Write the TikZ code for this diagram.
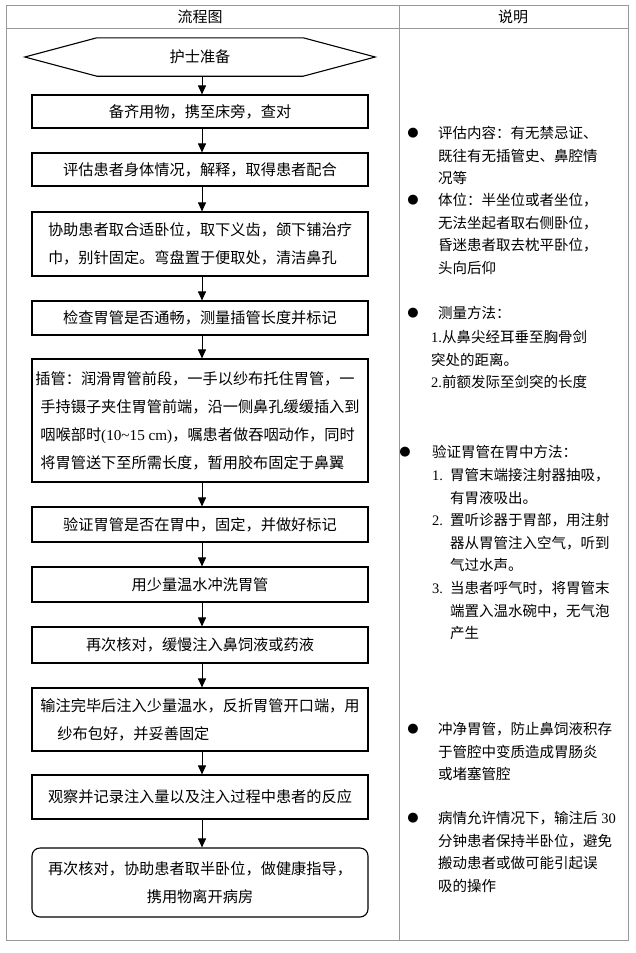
\documentclass[tikz,border=0pt]{standalone}
\usepackage{fontspec}
\newfontfamily\cjk{Noto Sans CJK SC}
\newfontfamily\tnr{Liberation Serif}
\newfontfamily\dju{DejaVu Sans}
\usetikzlibrary{arrows.meta}
\begin{document}
\begin{tikzpicture}[x=1pt,y=-1pt,
  box/.style={draw=black,line width=1.1pt,minimum width=336pt,inner sep=0pt,align=center,
    font=\cjk\fontsize{15.2}{28}\selectfont},
  lbox/.style={box,align=left},
  arr/.style={-{Triangle[length=9pt,width=8pt]},line width=0.9pt},
  grid/.style={draw=black!40,line width=1pt},
  head/.style={inner sep=0pt,font=\cjk\fontsize{15}{15}\selectfont},
  note/.style={anchor=base west,align=left,inner sep=0pt,font=\cjk\fontsize{14.5}{22.6}\selectfont},
  bul/.style={anchor=center,inner sep=0pt,font=\dju\fontsize{13}{13}\selectfont}]
\useasboundingbox (0,0) rectangle (635,953);
% table
\draw[grid] (6,5) rectangle (628,940);
\draw[grid] (6,28) -- (628,28);
\draw[grid] (399,5) -- (399,940);
\node[head] (h1) at (200,17) {流程图};
\node[head] (h2) at (513,17) {说明};
% hexagon
\node[inner sep=0pt,minimum width=350pt,minimum height=38pt,font=\cjk\fontsize{15.2}{15.2}\selectfont] (hex) at (200,57) {护士准备};
\draw[line width=1.1pt] (hex.west) -- ([xshift=72pt]hex.north west) -- ([xshift=-72pt]hex.north east)
  -- (hex.east) -- ([xshift=-72pt]hex.south east) -- ([xshift=72pt]hex.south west) -- cycle;
% boxes
\node[box,minimum height=33pt] (b1) at (200,111.5) {备齐用物，携至床旁，查对};
\node[box,minimum height=33pt] (b2) at (200,169.5) {评估患者身体情况，解释，取得患者配合};
\node[lbox,minimum height=64pt] (b3) at (200,244) {协助患者取合适卧位，取下义齿，颌下铺治疗\\巾，别针固定。弯盘置于便取处，清洁鼻孔};
\node[box,minimum height=34pt] (b4) at (200,318) {检查胃管是否通畅，测量插管长度并标记};
\node[lbox,minimum height=123pt] (b5) at (200,420.5) {\hspace*{-5pt}插管：润滑胃管前段，一手以纱布托住胃管，一\\手持镊子夹住胃管前端，沿一侧鼻孔缓缓插入到\\咽喉部时{\tnr(10\textasciitilde15 cm)}，嘱患者做吞咽动作，同时\\将胃管送下至所需长度，暂用胶布固定于鼻翼};
\node[box,minimum height=35pt] (b6) at (200,524.5) {验证胃管是否在胃中，固定，并做好标记};
\node[box,minimum height=35pt] (b7) at (200,584.5) {用少量温水冲洗胃管};
\node[box,minimum height=36pt] (b8) at (200,645) {再次核对，缓慢注入鼻饲液或药液};
\node[lbox,minimum height=63pt] (b9) at (200,719.5) {输注完毕后注入少量温水，反折胃管开口端，用\\\hspace*{17pt}纱布包好，并妥善固定};
\node[box,minimum height=44pt] (b10) at (200,797) {观察并记录注入量以及注入过程中患者的反应};
\node[box,rounded corners=8pt,minimum height=69pt] (b11) at (200,882.5) {再次核对，协助患者取半卧位，做健康指导，\\携用物离开病房};
% arrows
\draw[arr] ([xshift=2pt]hex.south) -- ([xshift=2pt]b1.north);
\draw[arr] ([xshift=2pt]b1.south) -- ([xshift=2pt]b2.north);
\draw[arr] ([xshift=2pt]b2.south) -- ([xshift=2pt]b3.north);
\draw[arr] ([xshift=2pt]b3.south) -- ([xshift=2pt]b4.north);
\draw[arr] ([xshift=2pt]b4.south) -- ([xshift=2pt]b5.north);
\draw[arr] ([xshift=2pt]b5.south) -- ([xshift=2pt]b6.north);
\draw[arr] ([xshift=2pt]b6.south) -- ([xshift=2pt]b7.north);
\draw[arr] ([xshift=2pt]b7.south) -- ([xshift=2pt]b8.north);
\draw[arr] ([xshift=2pt]b8.south) -- ([xshift=2pt]b9.north);
\draw[arr] ([xshift=2pt]b9.south) -- ([xshift=2pt]b10.north);
\draw[arr] ([xshift=2pt]b10.south) -- ([xshift=2pt]b11.north);
% notes (anchored at the baseline of the last line)
\node[bul] (d1) at (413,133) {●};
\node[note] (n1) at (438,183.7) {评估内容：有无禁忌证、\\既往有无插管史、鼻腔情\\况等};
\node[bul] (d2) at (413,200) {●};
\node[note] (n2) at (438,273.3) {体位：半坐位或者坐位，\\无法坐起者取右侧卧位，\\昏迷患者取去枕平卧位，\\头向后仰};
\node[bul] (d3) at (413,313) {●};
\node[note] (n3) at (438,318.5) {测量方法：};
\node[note] (n3b) at (431,387.7) {{\tnr 1.}从鼻尖经耳垂至胸骨剑\\突处的距离。\\{\tnr 2.}前额发际至剑突的长度};
\node[bul] (d4) at (405,452) {●};
\node[note] (n4) at (432,457.5) {验证胃管在胃中方法：};
\node[note] (k1) at (432,480.5) {\tnr 1.};
\node[note] (n41) at (450,503.1) {胃管末端接注射器抽吸，\\有胃液吸出。};
\node[note] (k2) at (432,525.5) {\tnr 2.};
\node[note] (n42) at (450,570.7) {置听诊器于胃部，用注射\\器从胃管注入空气，听到\\气过水声。};
\node[note] (k3) at (432,593.5) {\tnr 3.};
\node[note] (n43) at (450,638.7) {当患者呼气时，将胃管末\\端置入温水碗中，无气泡\\产生};
\node[bul] (d5) at (413,729) {●};
\node[note] (n5) at (438,779.7) {冲净胃管，防止鼻饲液积存\\于管腔中变质造成胃肠炎\\或堵塞管腔};
\node[bul] (d6) at (413,818) {●};
\node[note] (n6) at (438,891.3) {病情允许情况下，输注后{\tnr\ 30}\\分钟患者保持半卧位，避免\\搬动患者或做可能引起误\\吸的操作};
\end{tikzpicture}
\end{document}
